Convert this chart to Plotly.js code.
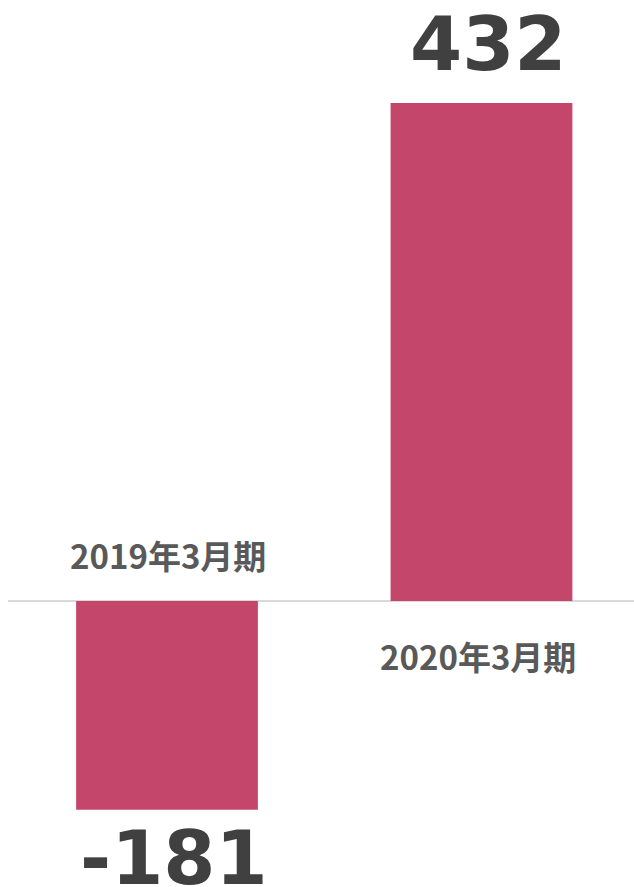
<!DOCTYPE html>
<html>
<head>
<meta charset="utf-8">
<script src="https://cdn.plot.ly/plotly-3.0.1.min.js"></script>
<style>html,body{margin:0;padding:0;background:#fff;}#chart{width:634px;height:887px;}</style>
</head>
<body>
<div id="chart"></div>
<script>
const categories = ["2019年3月期", "2020年3月期"];
const values = [-181, 432];
const valueLabels = ["-181", "432"];

const xs = categories.map((c, i) => i);
const barColor = "#C4476B";

const annotations = [];
values.forEach((v, i) => {
  annotations.push({
    x: xs[i], y: v, xref: "x", yref: "y",
    text: valueLabels[i], showarrow: false,
    xanchor: "center", yanchor: "middle",
    xshift: 7,
    yshift: v >= 0 ? 59 : -48,
    font: {family: "DejaVu Sans, Verdana, sans-serif", size: 75, color: "#404040", weight: "bold"}
  });
  annotations.push({
    x: xs[i], y: 0, xref: "x", yref: "y",
    text: "<b>" + categories[i] + "</b>", showarrow: false,
    xanchor: "center", yanchor: "middle",
    xshift: v >= 0 ? -3 : 1,
    yshift: v >= 0 ? -55 : 46,
    font: {family: "Noto Sans CJK JP, sans-serif", size: 33, color: "#595959"}
  });
});

const data = [{
  type: "bar",
  x: xs,
  y: values,
  width: 0.578,
  marker: {color: barColor},
  hoverinfo: "none"
}];

const layout = {
  width: 634, height: 887,
  margin: {l: 8, r: 0, t: 0, b: 0},
  paper_bgcolor: "#fff", plot_bgcolor: "#fff",
  showlegend: false,
  xaxis: {range: [-0.5056, 1.485], showgrid: false, zeroline: false, showticklabels: false, fixedrange: true},
  yaxis: {range: [-248.1, 521.3], showgrid: false, zeroline: true, zerolinecolor: "#D9D9D9", zerolinewidth: 2, showticklabels: false, fixedrange: true},
  annotations: annotations
};

Plotly.newPlot("chart", data, layout, {displayModeBar: false, staticPlot: true});
</script>
</body>
</html>
